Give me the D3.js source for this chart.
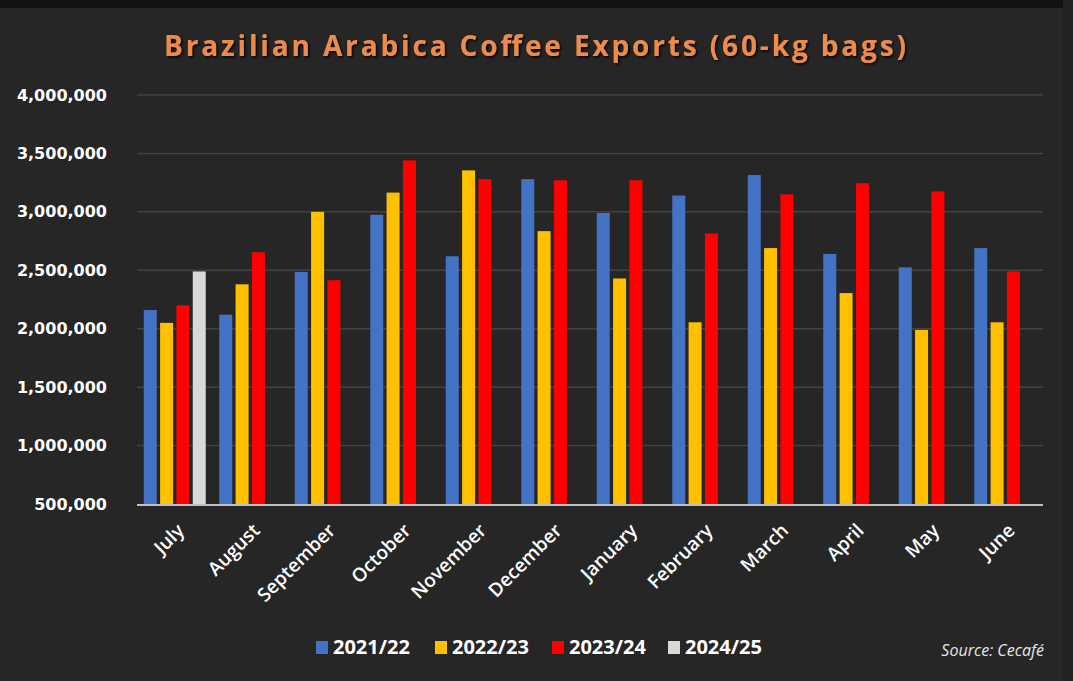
<!DOCTYPE html>
<html>
<head>
<meta charset="utf-8">
<script src="https://cdn.jsdelivr.net/npm/d3@7"></script>
<style>
  html, body { margin: 0; padding: 0; background: #262626; }
  svg { display: block; }
</style>
</head>
<body>
<svg id="chart" width="1073" height="681"></svg>
<script>
const months = ["July","August","September","October","November","December","January","February","March","April","May","June"];
const seriesNames = ["2021/22","2022/23","2023/24","2024/25"];
const colors = ["#4472C4","#FFC000","#FF0000","#D9D9D9"];
const s2122 = [2160000,2120000,2485000,2975000,2620000,3280000,2990000,3140000,3315000,2640000,2525000,2690000];
const s2223 = [2050000,2380000,3000000,3165000,3355000,2835000,2430000,2055000,2690000,2305000,1990000,2055000];
const s2324 = [2200000,2655000,2415000,3440000,3280000,3270000,3270000,2815000,3150000,3245000,3175000,2490000];
const s2425 = [2490000,null,null,null,null,null,null,null,null,null,null,null];
const yTicks = [500000,1000000,1500000,2000000,2500000,3000000,3500000,4000000];
const titleText = "Brazilian Arabica Coffee Exports (60-kg bags)";
const sourceText = "Source: Cecafé";

const allSeries = [s2122, s2223, s2324, s2425];

const svg = d3.select("#chart");
svg.append("rect").attr("width",1073).attr("height",681).attr("fill","#262626");
svg.append("rect").attr("width",1073).attr("height",8).attr("fill","#121212");
svg.append("rect").attr("x",1063).attr("width",10).attr("height",681).attr("fill","#222222");

const x0 = d3.scaleBand().domain(months).range([137,1043]).paddingInner(0.179).paddingOuter(0.0895);
const x1 = d3.scaleBand().domain(d3.range(4)).range([0, x0.bandwidth()]).paddingInner(0.204).paddingOuter(0);
const y = d3.scaleLinear().domain([500000,4000000]).range([504,95]);

// gridlines
svg.append("g").selectAll("line").data(yTicks.slice(1)).join("line")
  .attr("x1",137).attr("x2",1043)
  .attr("y1",d=>y(d)).attr("y2",d=>y(d))
  .attr("stroke","#424242").attr("stroke-width",1.5);

// y axis labels
const yAxis = d3.axisLeft(y).tickValues(yTicks).tickFormat(d3.format(",")).tickSize(0).tickPadding(0);
const ya = svg.append("g").attr("transform","translate(107,0)").call(yAxis);
ya.select(".domain").remove();
ya.selectAll("text").attr("fill","#ffffff").attr("font-family","'DejaVu Sans', sans-serif")
  .attr("font-weight","bold").attr("font-size","16px");

// bars
const groups = svg.append("g").selectAll("g").data(months).join("g")
  .attr("transform", d => `translate(${x0(d)},0)`);
groups.selectAll("rect")
  .data((m,i) => allSeries.map((s,k) => ({k, v: s[i]})).filter(d => d.v != null))
  .join("rect")
  .attr("x", d => x1(d.k))
  .attr("width", x1.bandwidth())
  .attr("y", d => y(d.v))
  .attr("height", d => y(500000) - y(d.v))
  .attr("fill", d => colors[d.k]);

// baseline
svg.append("line").attr("x1",137).attr("x2",1043).attr("y1",y(500000)+1).attr("y2",y(500000)+1)
  .attr("stroke","#bfbfbf").attr("stroke-width",2);

// x labels
const xAxis = d3.axisBottom(x0).tickSize(0).tickPadding(0);
const xa = svg.append("g").attr("transform","translate(0,505)").call(xAxis);
xa.select(".domain").remove();
xa.selectAll("text")
  .attr("fill","#ffffff").attr("font-family","'Open Sans', sans-serif")
  .attr("font-weight","600").attr("font-size","19px")
  .attr("text-anchor","end")
  .attr("transform","translate(6,22) rotate(-45)")
  .attr("dy","0.35em").attr("y",0).attr("x",0);

// title
const defs = svg.append("defs");
const f = defs.append("filter").attr("id","sh").attr("x","-5%").attr("y","-20%").attr("width","110%").attr("height","150%");
f.append("feDropShadow").attr("dx",1.5).attr("dy",1.5).attr("stdDeviation",1).attr("flood-color","#000").attr("flood-opacity",0.9);
svg.append("text").attr("x",164).attr("y",56)
  .attr("textLength",742).attr("lengthAdjust","spacing")
  .attr("fill","#EC8B4C").attr("font-family","'Open Sans', sans-serif")
  .attr("font-weight","bold").attr("font-size","28px")
  .attr("filter","url(#sh)")
  .text(titleText);

// legend
const legendX = [316, 435, 552, 668];
const lg = svg.append("g").selectAll("g").data(seriesNames).join("g")
  .attr("transform",(d,i)=>`translate(${legendX[i]},0)`);
lg.append("rect").attr("x",0).attr("y",641).attr("width",12).attr("height",13).attr("fill",(d,i)=>colors[i]);
lg.append("text").attr("x",17).attr("y",654)
  .attr("fill","#ffffff").attr("font-family","'Open Sans', sans-serif")
  .attr("font-weight","bold").attr("font-size","20px").text(d=>d);

// source
svg.append("text").attr("x",1044).attr("y",656).attr("text-anchor","end")
  .attr("fill","#e6e6e6").attr("font-family","'Open Sans', sans-serif")
  .attr("font-style","italic").attr("font-size","16px").text(sourceText);
</script>
</body>
</html>
